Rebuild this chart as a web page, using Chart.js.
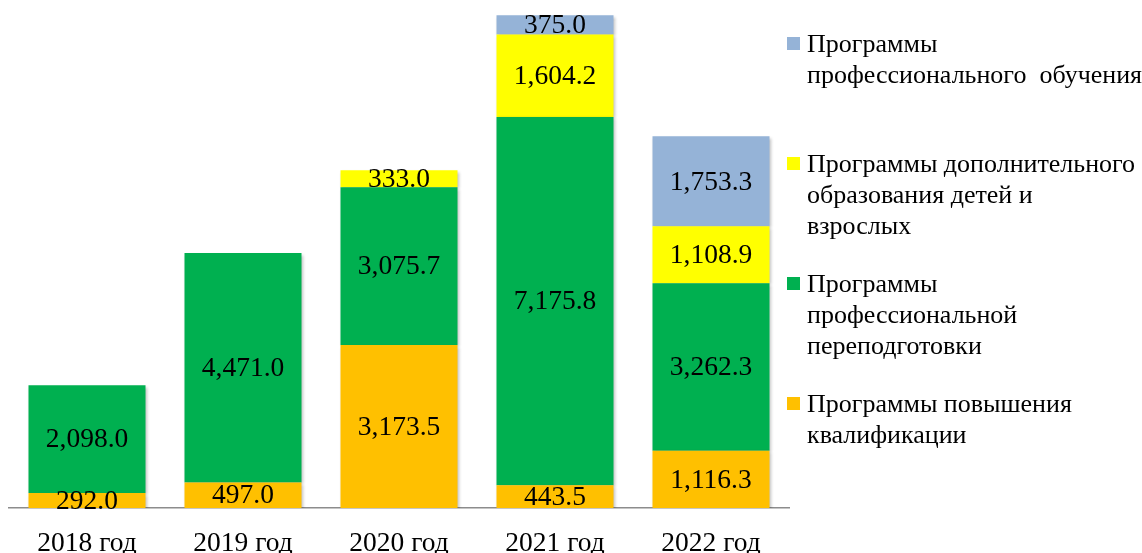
<!DOCTYPE html>
<html>
<head>
<meta charset="utf-8">
<script src="https://cdn.jsdelivr.net/npm/chart.js@4"></script>
<style>
  html, body { margin:0; padding:0; background:#fff; }
  #wrap { position:relative; width:1142px; height:553px; }
  canvas { position:absolute; left:0; top:0; }
  .leg { position:absolute; left:807px; font-family:"Liberation Serif","Times New Roman",serif; font-size:26px; line-height:31px; color:#000; white-space:nowrap; }
  .sq { position:absolute; left:-20px; top:9px; width:13px; height:13px; }
</style>
</head>
<body>
<div id="wrap">
  <canvas id="c" width="1142" height="553"></canvas>
</div>
<script>
const categories = ['2018 год', '2019 год', '2020 год', '2021 год', '2022 год'];
const povysheniya = [292.0, 497.0, 3173.5, 443.5, 1116.3];
const perepodgotovki = [2098.0, 4471.0, 3075.7, 7175.8, 3262.3];
const dopolnitelnogo = [null, null, 333.0, 1604.2, 1108.9];
const obucheniya = [null, null, null, 375.0, 1753.3];

const seriesNames = [
  'Программы повышения квалификации',
  'Программы профессиональной переподготовки',
  'Программы дополнительного образования детей и взрослых',
  'Программы профессионального обучения'
];
const legendLines = [
  ['Программы', 'профессионального&nbsp; обучения'],
  ['Программы дополнительного', 'образования детей и', 'взрослых'],
  ['Программы', 'профессиональной', 'переподготовки'],
  ['Программы повышения', 'квалификации']
];
const colors = ['#FFC000', '#00B050', '#FFFF00', '#95B3D7'];

const serif = '"Liberation Serif","Times New Roman",serif';

const labelPlugin = {
  id: 'segLabels',
  beforeDatasetsDraw(chart) {
    const ctx = chart.ctx;
    ctx.save();
    ctx.shadowColor = 'rgba(0,0,0,0.25)';
    ctx.shadowBlur = 3;
    ctx.shadowOffsetX = 1.5;
    ctx.shadowOffsetY = 1.5;
  },
  afterDatasetsDraw(chart) {
    const ctx = chart.ctx;
    ctx.restore();
    ctx.save();
    ctx.font = '27.5px ' + serif;
    ctx.fillStyle = '#000';
    ctx.textAlign = 'center';
    ctx.textBaseline = 'middle';
    chart.data.datasets.forEach((ds, di) => {
      const meta = chart.getDatasetMeta(di);
      meta.data.forEach((el, i) => {
        const v = ds.data[i];
        if (v === null || v === undefined) return;
        const y = (el.y + el.base) / 2;
        const txt = v.toLocaleString('en-US', {minimumFractionDigits:1, maximumFractionDigits:1});
        ctx.fillText(txt, el.x, y + 1);
      });
    });
    ctx.restore();
  }
};

const datasets = [povysheniya, perepodgotovki, dopolnitelnogo, obucheniya].map((d, i) => ({
  label: seriesNames[i],
  data: d,
  backgroundColor: colors[i],
  borderWidth: 0,
  categoryPercentage: 1.0,
  barPercentage: 0.75
}));

new Chart(document.getElementById('c'), {
  type: 'bar',
  data: { labels: categories, datasets },
  options: {
    responsive: false,
    animation: false,
    layout: { padding: { left: 9, right: 353, top: 5, bottom: 0 } },
    plugins: { legend: { display: false }, tooltip: { enabled: false } },
    scales: {
      x: {
        stacked: true,
        grid: { display: false, drawTicks: false },
        border: { display: true, color: '#8c8c8c', width: 1.5 },
        ticks: { color: '#000', font: { family: serif, size: 27.5 }, padding: 19 },
        afterFit(scale) { scale.height = 45; }
      },
      y: {
        stacked: true,
        display: false,
        min: 0,
        max: 9800
      }
    }
  },
  plugins: [labelPlugin]
});

// HTML legend
const wrap = document.getElementById('wrap');
const tops = [28, 148, 268, 388];
const order = [3, 2, 1, 0];
order.forEach((si, k) => {
  const div = document.createElement('div');
  div.className = 'leg';
  div.style.top = tops[k] + 'px';
  div.innerHTML = '<span class="sq" style="background:' + colors[si] + '"></span>' + legendLines[k].join('<br>');
  wrap.appendChild(div);
});
</script>
</body>
</html>
